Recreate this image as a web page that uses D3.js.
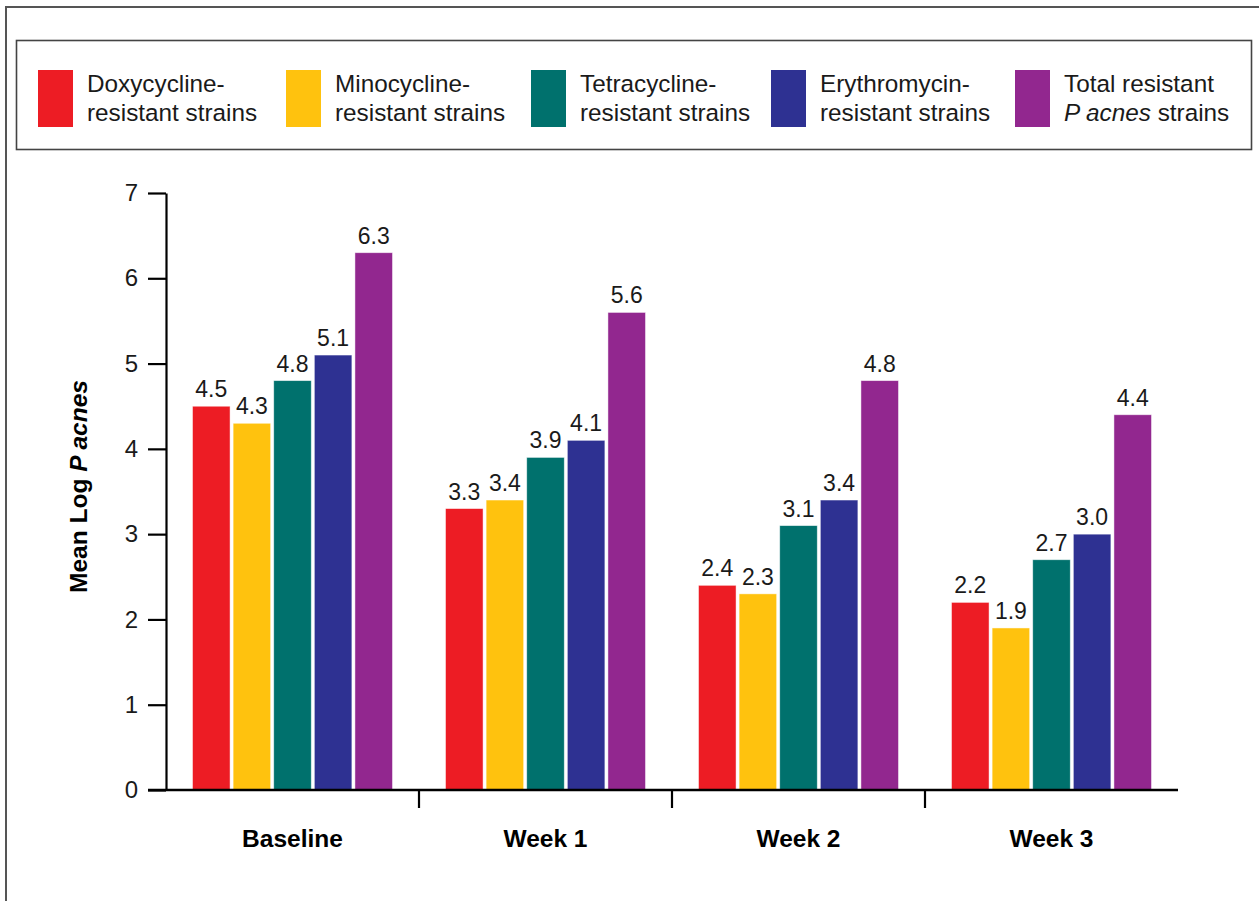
<!DOCTYPE html>
<html>
<head>
<meta charset="utf-8">
<script src="https://cdn.jsdelivr.net/npm/d3@7"></script>
<style>
  html, body { margin: 0; padding: 0; background: #fff; }
  svg { display: block; font-family: "Liberation Sans", Arial, Helvetica, sans-serif; }
</style>
</head>
<body>
<svg id="chart" width="1259" height="901"></svg>
<script>
// Time points on the x axis
const categories = ["Baseline", "Week 1", "Week 2", "Week 3"];

// Resistant strain groups (legend order = bar order within each time point)
const seriesKeys = ["doxy", "mino", "tetra", "ery", "total"];
const seriesLabels = [
  ["Doxycycline-", "resistant strains"],
  ["Minocycline-", "resistant strains"],
  ["Tetracycline-", "resistant strains"],
  ["Erythromycin-", "resistant strains"],
  ["Total resistant", "P acnes strains"]
];
const seriesColors = ["#ED1C24", "#FFC20E", "#00716D", "#2E3192", "#92278F"];

// Mean log P acnes counts per series, one value per time point
const doxy  = [4.5, 3.3, 2.4, 2.2];
const mino  = [4.3, 3.4, 2.3, 1.9];
const tetra = [4.8, 3.9, 3.1, 2.7];
const ery   = [5.1, 4.1, 3.4, 3.0];
const total = [6.3, 5.6, 4.8, 4.4];

const yTicks = [0, 1, 2, 3, 4, 5, 6, 7];

const seriesValues = { doxy, mino, tetra, ery, total };

const svg = d3.select("#chart");

// Outer frame
svg.append("rect")
  .attr("x", 6).attr("y", 7)
  .attr("width", 1270).attr("height", 920)
  .attr("fill", "none").attr("stroke", "#555").attr("stroke-width", 2);

// Legend box
svg.append("rect")
  .attr("x", 16.5).attr("y", 40.5)
  .attr("width", 1235).attr("height", 109)
  .attr("fill", "#fff").attr("stroke", "#444").attr("stroke-width", 1.6);

const legendX = [38, 286, 531, 771, 1015];
const legend = svg.append("g");
seriesKeys.forEach((k, i) => {
  const g = legend.append("g").attr("transform", `translate(${legendX[i]},0)`);
  g.append("rect")
    .attr("x", 0).attr("y", 70)
    .attr("width", 35).attr("height", 57)
    .attr("fill", seriesColors[i]);
  g.append("text")
    .attr("x", 49).attr("y", 92)
    .attr("font-size", 24.3).attr("fill", "#1a1a1a")
    .text(seriesLabels[i][0]);
  const t2 = g.append("text")
    .attr("x", 49).attr("y", 121)
    .attr("font-size", 24.3).attr("fill", "#1a1a1a");
  if (k === "total") {
    t2.append("tspan").attr("font-style", "italic").text("P acnes");
    t2.append("tspan").text(" strains");
  } else {
    t2.text(seriesLabels[i][1]);
  }
});

// Plot area
const plot = { left: 166, right: 1178, top: 193, bottom: 790 };

const x0 = d3.scaleBand()
  .domain(categories)
  .range([plot.left, plot.right])
  .paddingInner(0).paddingOuter(0);

const groupWidth = 200;
const x1 = d3.scaleBand()
  .domain(seriesKeys)
  .range([(x0.bandwidth() - groupWidth) / 2, (x0.bandwidth() + groupWidth) / 2])
  .paddingInner(0.075).paddingOuter(0);

const y = d3.scaleLinear()
  .domain([0, 7])
  .range([plot.bottom, plot.top]);

// Bars
const groups = svg.append("g").selectAll("g")
  .data(categories)
  .join("g")
  .attr("transform", d => `translate(${x0(d)},0)`);

groups.selectAll("rect")
  .data((c, ci) => seriesKeys.map((k, si) => ({ key: k, si, value: seriesValues[k][ci] })))
  .join("rect")
  .attr("x", d => x1(d.key))
  .attr("y", d => y(d.value))
  .attr("width", x1.bandwidth())
  .attr("height", d => y(0) - y(d.value))
  .attr("fill", d => seriesColors[d.si])
  .attr("stroke", "#fff")
  .attr("stroke-opacity", 0.6)
  .attr("stroke-width", 0.8);

// Value labels
groups.selectAll("text.val")
  .data((c, ci) => seriesKeys.map((k, si) => ({ key: k, si, value: seriesValues[k][ci] })))
  .join("text")
  .attr("class", "val")
  .attr("x", d => x1(d.key) + x1.bandwidth() / 2)
  .attr("y", d => y(d.value) - 9)
  .attr("text-anchor", "middle")
  .attr("font-size", 23)
  .attr("fill", "#1a1a1a")
  .text(d => d3.format(".1f")(d.value));

// Y axis
const yAxis = svg.append("g")
  .attr("transform", `translate(${plot.left},0)`)
  .call(d3.axisLeft(y).tickValues(yTicks).tickFormat(d3.format("d")).tickSize(18).tickSizeOuter(0).tickPadding(10));
yAxis.select(".domain").attr("stroke", "#000").attr("stroke-width", 2.2);
yAxis.selectAll(".tick line").attr("stroke", "#000").attr("stroke-width", 2.2);
yAxis.selectAll(".tick text")
  .attr("font-size", 24).attr("fill", "#1a1a1a")
  .attr("font-family", "Liberation Sans, Arial, sans-serif");

// X axis: separators between time points
const xAxis = svg.append("g")
  .attr("transform", `translate(0,${plot.bottom})`);
xAxis.append("line")
  .attr("x1", plot.left - 18).attr("x2", plot.right)
  .attr("y1", 0).attr("y2", 0)
  .attr("stroke", "#000").attr("stroke-width", 2.4);
xAxis.selectAll("line.sep")
  .data(categories.slice(1))
  .join("line")
  .attr("class", "sep")
  .attr("x1", d => x0(d)).attr("x2", d => x0(d))
  .attr("y1", 0).attr("y2", 18)
  .attr("stroke", "#000").attr("stroke-width", 2.2);
xAxis.selectAll("text.cat")
  .data(categories)
  .join("text")
  .attr("class", "cat")
  .attr("x", d => x0(d) + x0.bandwidth() / 2)
  .attr("y", 57)
  .attr("text-anchor", "middle")
  .attr("font-size", 24.5)
  .attr("font-weight", "bold")
  .attr("fill", "#000")
  .text(d => d);

// Y axis title
const yTitle = svg.append("text")
  .attr("transform", `translate(87,${(plot.top + plot.bottom) / 2 - 5}) rotate(-90)`)
  .attr("text-anchor", "middle")
  .attr("font-size", 24.5)
  .attr("font-weight", "bold")
  .attr("fill", "#000");
yTitle.append("tspan").text("Mean Log ");
yTitle.append("tspan").attr("font-style", "italic").text("P acnes");
</script>
</body>
</html>
